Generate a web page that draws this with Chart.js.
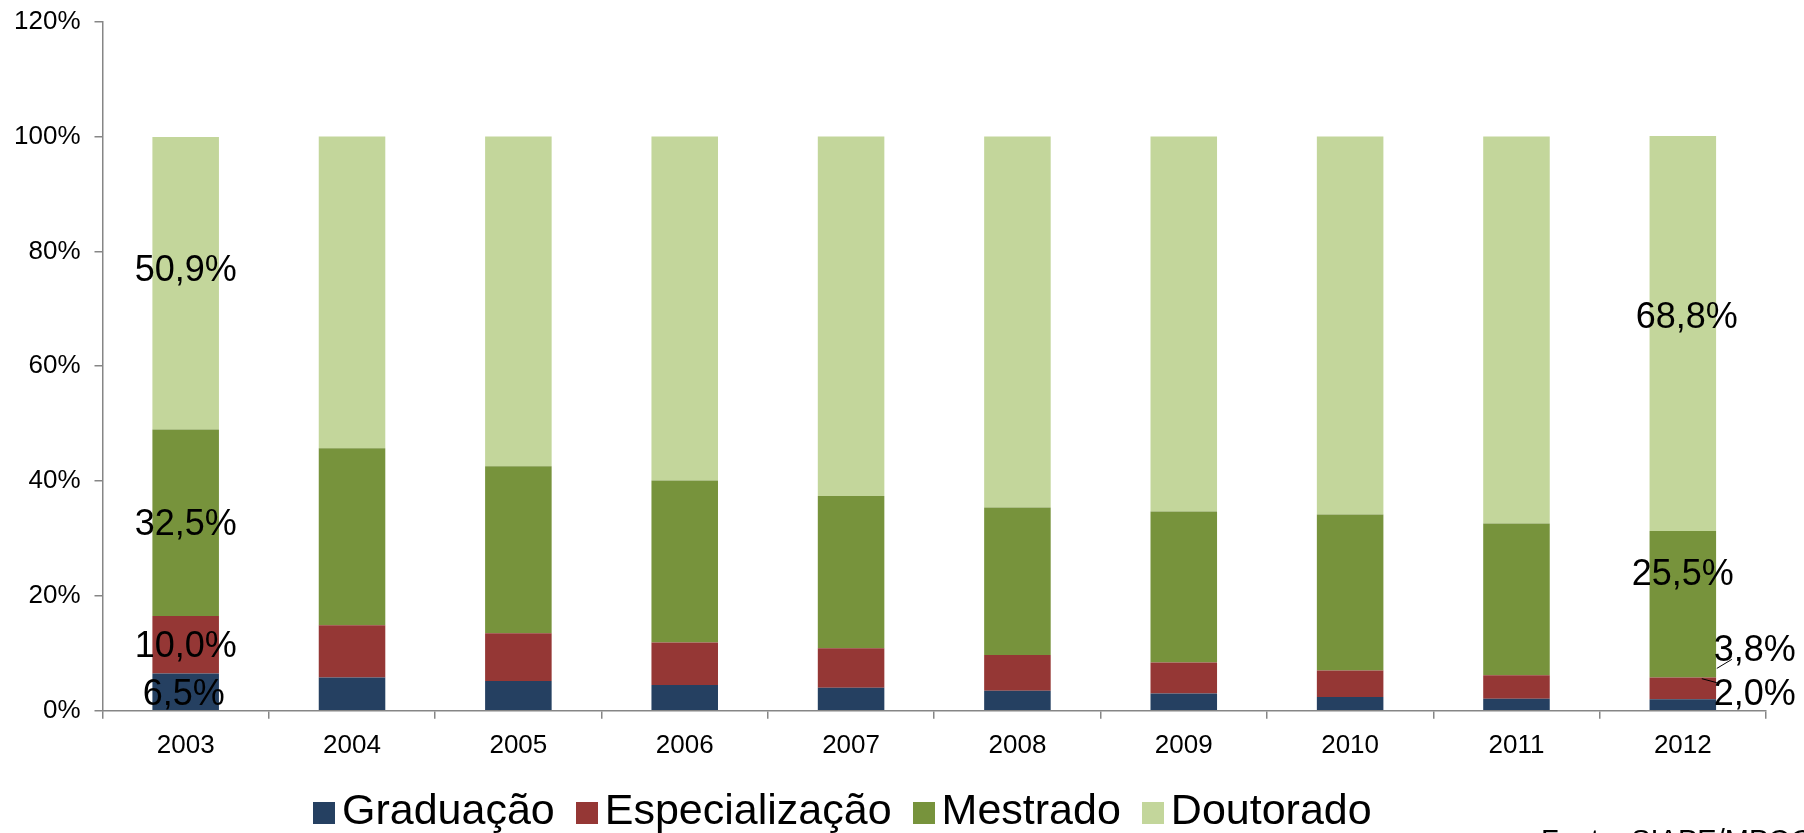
<!DOCTYPE html>
<html lang="pt-BR">
<head>
<meta charset="utf-8">
<title>Servidores por titulação 2003-2012</title>
<script src="https://cdn.jsdelivr.net/npm/chart.js@4.4.1/dist/chart.umd.min.js"></script>
<style>
    html, body { margin: 0; padding: 0; background: #fff; overflow: hidden; }
    body { width: 1804px; height: 833px; position: relative; font-family: "Liberation Sans", Arial, sans-serif; }
    /* canvas sobe um pouco para o rotulo 120% ficar no topo como no original */
    #wrap { position: absolute; left: 0; top: -8px; width: 1804px; height: 841px; }
    #legenda { position: absolute; left: 313px; top: 788px; font-size: 43px; line-height: 43px; white-space: nowrap; color: #000; }
    #legenda .item { display: inline-block; margin-right: 21px; }
    #legenda .caixa { display: inline-block; width: 22px; height: 22px; margin-right: 7px; vertical-align: baseline; }
    #fonte { position: absolute; left: 1541px; top: 826px; font-size: 29px; line-height: 29px; white-space: nowrap; color: #000; }
</style>
</head>
<body>
<div id="wrap"><canvas id="grafico"></canvas></div>
<div id="legenda"></div>
<div id="fonte">Fonte: SIAPE/MPOG</div>

<script>
// ── dados (% por titulação) ──
const anos = ['2003', '2004', '2005', '2006', '2007', '2008', '2009', '2010', '2011', '2012'];
const graduacao      = [6.5, 5.8, 5.2, 4.5, 4.0, 3.5, 3.0, 2.4, 2.1, 2.0];
const especializacao = [10.0, 9.1, 8.3, 7.4, 6.9, 6.2, 5.4, 4.6, 4.1, 3.8];
const mestrado       = [32.5, 30.8, 29.1, 28.2, 26.5, 25.7, 26.3, 27.2, 26.4, 25.5];
const doutorado      = [50.9, 54.3, 57.4, 59.9, 62.6, 64.6, 65.3, 65.8, 67.4, 68.8];
const ticksY = [0, 20, 40, 60, 80, 100, 120];

const nomes = ['Graduação', 'Especialização', 'Mestrado', 'Doutorado'];
const cores = ['#254061', '#953735', '#77933C', '#C3D69B'];

const FONTE = '"Liberation Sans", Arial, sans-serif';
Chart.defaults.font.family = FONTE;

function formata(v) {
    return v.toFixed(1).replace('.', ',') + '%';
}

// rotulos so no primeiro e no ultimo ano (ajustes [dx, dy] por serie)
const rotulosPlugin = {
    id: 'rotulos',
    afterDatasetsDraw(chart, args, opts) {
        const ctx = chart.ctx;
        ctx.save();
        ctx.font = '36px ' + FONTE;
        ctx.fillStyle = '#000';
        ctx.textAlign = 'center';
        ctx.textBaseline = 'middle';
        chart.data.datasets.forEach((ds, i) => {
            const meta = chart.getDatasetMeta(i);
            opts.indices.forEach(idx => {
                const bar = meta.data[idx];
                const aj = opts.ajustes[idx][i];
                const x = bar.x + aj[0];
                const y = (bar.y + bar.base) / 2 + aj[1];
                ctx.fillText(formata(ds.data[idx]), x, y);
                // linha guia para os rotulos deslocados para fora da barra
                if (aj[2]) {
                    ctx.strokeStyle = '#000';
                    ctx.lineWidth = 1;
                    ctx.beginPath();
                    ctx.moveTo(x + aj[2][0], y + aj[2][1]);
                    ctx.lineTo(x + aj[2][2], y + aj[2][3]);
                    ctx.stroke();
                }
            });
        });
        ctx.restore();
    }
};

const eixoCor = '#868686';

new Chart(document.getElementById('grafico'), {
    type: 'bar',
    data: {
        labels: anos,
        datasets: [
            { label: nomes[0], data: graduacao, backgroundColor: cores[0] },
            { label: nomes[1], data: especializacao, backgroundColor: cores[1] },
            { label: nomes[2], data: mestrado, backgroundColor: cores[2] },
            { label: nomes[3], data: doutorado, backgroundColor: cores[3] },
        ],
    },
    options: {
        responsive: true,
        maintainAspectRatio: false,
        animation: false,
        layout: { padding: { left: 0, right: 38, top: 0, bottom: 61 } },
        datasets: { bar: { categoryPercentage: 1, barPercentage: 0.4 } },
        plugins: {
            legend: { display: false },
            tooltip: { enabled: false },
            rotulos: {
                indices: [0, 9],
                ajustes: {
                    0: [[-2, 3], [0, 2], [0, 2], [0, -12]],
                    9: [[72, -10, [-53, -16, -38, -12]], [72, -37, [-38, 17, -23, 8]], [0, -29], [4, -15]],
                },
            },
        },
        scales: {
            x: {
                stacked: true,
                grid: { offset: true, drawOnChartArea: false, tickLength: 8, color: eixoCor, lineWidth: 1.5 },
                border: { color: eixoCor, width: 1.5 },
                ticks: { color: '#000', font: { size: 26 }, padding: 11 },
            },
            y: {
                stacked: true,
                min: 0,
                max: 120,
                afterBuildTicks: axis => { axis.ticks = ticksY.map(v => ({ value: v })); },
                grid: { drawOnChartArea: false, tickLength: 8, color: eixoCor, lineWidth: 1.5 },
                border: { color: eixoCor, width: 1.5 },
                ticks: { color: '#000', font: { size: 26 }, padding: 14, callback: v => v + '%' },
            },
        },
    },
    plugins: [rotulosPlugin],
});

// legenda manual (posicao igual a do original)
const legenda = document.getElementById('legenda');
nomes.forEach((n, i) => {
    const item = document.createElement('span');
    item.className = 'item';
    const caixa = document.createElement('span');
    caixa.className = 'caixa';
    caixa.style.background = cores[i];
    item.appendChild(caixa);
    item.appendChild(document.createTextNode(n));
    legenda.appendChild(item);
});
</script>
</body>
</html>
